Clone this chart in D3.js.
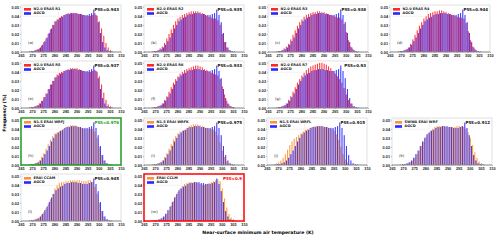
<!DOCTYPE html>
<html>
<head>
<meta charset="utf-8">
<script src="https://cdn.jsdelivr.net/npm/d3@7"></script>
<style>
  body { margin: 0; background: #fff; }
  svg { font-family: "DejaVu Sans", sans-serif; }
</style>
</head>
<body>
<svg id="fig"></svg>
<script>
// bin left edges (K), 1 K bins
const binStart = [266, 267, 268, 269, 270, 271, 272, 273, 274, 275,
                  276, 277, 278, 279, 280, 281, 282, 283, 284, 285,
                  286, 287, 288, 289, 290, 291, 292, 293, 294, 295,
                  296, 297, 298, 299, 300, 301, 302, 303, 304, 305,
                  306, 307];

const agcd = [0, 0, 0.0005, 0.001, 0.001, 0.002, 0.003, 0.005, 0.008, 0.012,
              0.016, 0.021, 0.026, 0.030, 0.034, 0.036, 0.038, 0.039, 0.041, 0.042,
              0.042, 0.043, 0.043, 0.043, 0.042, 0.042, 0.041, 0.041, 0.041, 0.042,
              0.043, 0.047, 0.041, 0.033, 0.021, 0.011, 0.005, 0.002, 0.001, 0.0005,
              0, 0];

const r1 = [0, 0, 0, 0.0005, 0.001, 0.002, 0.003, 0.004, 0.007, 0.011,
            0.015, 0.020, 0.025, 0.030, 0.034, 0.036, 0.038, 0.040, 0.041, 0.042,
            0.043, 0.043, 0.043, 0.043, 0.043, 0.042, 0.042, 0.041, 0.040, 0.040,
            0.040, 0.041, 0.043, 0.040, 0.034, 0.026, 0.018, 0.010, 0.005, 0.002,
            0.0005, 0];
const r2 = [0, 0, 0, 0.0005, 0.001, 0.002, 0.004, 0.006, 0.010, 0.015,
            0.020, 0.025, 0.030, 0.034, 0.037, 0.039, 0.041, 0.042, 0.043, 0.044,
            0.045, 0.045, 0.045, 0.045, 0.044, 0.043, 0.042, 0.040, 0.039, 0.038,
            0.037, 0.037, 0.035, 0.030, 0.020, 0.011, 0.005, 0.002, 0.001, 0,
            0, 0];
const r3 = [0, 0, 0, 0.0005, 0.001, 0.002, 0.004, 0.006, 0.009, 0.014,
            0.019, 0.024, 0.029, 0.033, 0.036, 0.039, 0.041, 0.042, 0.043, 0.044,
            0.044, 0.045, 0.045, 0.044, 0.044, 0.043, 0.042, 0.041, 0.040, 0.039,
            0.038, 0.038, 0.036, 0.031, 0.022, 0.013, 0.006, 0.003, 0.001, 0,
            0, 0];
const r4 = [0, 0, 0, 0.0005, 0.001, 0.002, 0.003, 0.005, 0.009, 0.014,
            0.019, 0.024, 0.029, 0.033, 0.037, 0.040, 0.042, 0.043, 0.044, 0.045,
            0.045, 0.046, 0.046, 0.045, 0.044, 0.043, 0.042, 0.041, 0.040, 0.039,
            0.038, 0.038, 0.037, 0.032, 0.023, 0.013, 0.006, 0.003, 0.001, 0,
            0, 0];
const r5 = [0, 0, 0, 0.0005, 0.001, 0.002, 0.003, 0.005, 0.008, 0.012,
            0.016, 0.021, 0.026, 0.030, 0.034, 0.037, 0.039, 0.040, 0.041, 0.042,
            0.043, 0.044, 0.044, 0.044, 0.044, 0.043, 0.042, 0.041, 0.040, 0.040,
            0.040, 0.041, 0.042, 0.040, 0.035, 0.026, 0.017, 0.009, 0.004, 0.002,
            0.0005, 0];
const r6 = [0, 0, 0, 0.0005, 0.001, 0.002, 0.003, 0.005, 0.009, 0.013,
            0.018, 0.023, 0.028, 0.032, 0.035, 0.038, 0.040, 0.042, 0.043, 0.044,
            0.045, 0.046, 0.047, 0.047, 0.046, 0.045, 0.043, 0.042, 0.040, 0.039,
            0.038, 0.037, 0.036, 0.032, 0.024, 0.015, 0.008, 0.004, 0.002, 0.001,
            0, 0];
const r7 = [0, 0, 0, 0.0005, 0.001, 0.002, 0.003, 0.005, 0.009, 0.013,
            0.018, 0.023, 0.028, 0.032, 0.036, 0.039, 0.042, 0.044, 0.046, 0.047,
            0.048, 0.049, 0.050, 0.050, 0.049, 0.048, 0.046, 0.044, 0.041, 0.038,
            0.035, 0.032, 0.028, 0.022, 0.015, 0.009, 0.005, 0.002, 0.001, 0,
            0, 0];
const wrfj = [0, 0, 0, 0.0005, 0.001, 0.002, 0.003, 0.005, 0.009, 0.013,
              0.018, 0.023, 0.028, 0.032, 0.035, 0.036, 0.037, 0.038, 0.040, 0.042,
              0.043, 0.044, 0.044, 0.044, 0.043, 0.042, 0.041, 0.040, 0.040, 0.040,
              0.040, 0.040, 0.037, 0.030, 0.020, 0.011, 0.005, 0.002, 0.001, 0,
              0, 0];
const wrfk = [0, 0, 0, 0.0005, 0.001, 0.002, 0.003, 0.005, 0.009, 0.013,
              0.018, 0.023, 0.028, 0.032, 0.035, 0.037, 0.038, 0.039, 0.041, 0.043,
              0.044, 0.045, 0.045, 0.045, 0.044, 0.043, 0.042, 0.041, 0.040, 0.040,
              0.039, 0.037, 0.033, 0.025, 0.016, 0.009, 0.004, 0.002, 0.001, 0,
              0, 0];
const wrfl = [0, 0.0005, 0.001, 0.002, 0.003, 0.005, 0.008, 0.012, 0.017, 0.022,
              0.026, 0.029, 0.031, 0.033, 0.035, 0.037, 0.039, 0.040, 0.041, 0.042,
              0.043, 0.043, 0.043, 0.043, 0.043, 0.042, 0.042, 0.041, 0.040, 0.038,
              0.034, 0.028, 0.020, 0.012, 0.006, 0.003, 0.001, 0.0005, 0, 0,
              0, 0];
const swwa = [0, 0, 0, 0, 0.0005, 0.001, 0.002, 0.003, 0.005, 0.008,
              0.012, 0.016, 0.021, 0.026, 0.031, 0.035, 0.038, 0.040, 0.042, 0.043,
              0.043, 0.043, 0.043, 0.042, 0.042, 0.042, 0.042, 0.042, 0.043, 0.043,
              0.043, 0.042, 0.040, 0.036, 0.030, 0.022, 0.014, 0.008, 0.004, 0.002,
              0.001, 0];
const ccam = [0, 0, 0, 0.0005, 0.001, 0.002, 0.003, 0.004, 0.007, 0.010,
              0.014, 0.019, 0.024, 0.030, 0.036, 0.040, 0.042, 0.043, 0.043, 0.044,
              0.044, 0.045, 0.045, 0.045, 0.045, 0.045, 0.044, 0.044, 0.044, 0.045,
              0.045, 0.043, 0.038, 0.030, 0.020, 0.011, 0.005, 0.002, 0.001, 0,
              0, 0];
const cclm = [0, 0, 0, 0, 0.0005, 0.001, 0.002, 0.003, 0.005, 0.008,
              0.012, 0.017, 0.022, 0.027, 0.032, 0.036, 0.039, 0.041, 0.042, 0.043,
              0.043, 0.043, 0.043, 0.042, 0.041, 0.040, 0.040, 0.041, 0.042, 0.043,
              0.044, 0.045, 0.046, 0.044, 0.036, 0.025, 0.015, 0.008, 0.004, 0.002,
              0.0005, 0];

const modelNames = ["N2.0 ERA5 R1", "N2.0 ERA5 R2", "N2.0 ERA5 R3", "N2.0 ERA5 R4",
                    "N2.0 ERA5 R5", "N2.0 ERA5 R6", "N2.0 ERA5 R7",
                    "N1.5 ERAI WRFJ", "N1.5 ERAI WRFK", "N1.5 ERAI WRFL", "SWWA ERAI WRF",
                    "ERAI CCAM", "ERAI CCLM"];
const modelSeries = [r1, r2, r3, r4, r5, r6, r7, wrfj, wrfk, wrfl, swwa, ccam, cclm];
const pssValues = ["0.943", "0.935", "0.938", "0.944", "0.937", "0.933", "0.93",
                   "0.976", "0.975", "0.915", "0.912", "0.945", "0.9"];
const panelLetters = ["(a)", "(b)", "(c)", "(d)", "(e)", "(f)", "(g)",
                      "(h)", "(i)", "(j)", "(k)", "(l)", "(m)"];
const xTicks = [265, 270, 275, 280, 285, 290, 295, 300, 305, 310];
const yTicks = [0, 0.01, 0.02, 0.03, 0.04, 0.05];

const width = 500;
const height = 241;
const pw = 100, ph = 47;

// panel origins (left, top) in grid order
const colX = [[21, 144, 268, 390], [21, 144, 268], [21, 144, 267, 392], [21, 144]];
const rowY = [5, 61, 118, 174];

const svg = d3.select("#fig").attr("width", width).attr("height", height);

const xScale = d3.scaleLinear().domain([265, 310]).range([0, pw]);
const yScale = d3.scaleLinear().domain([0, 0.052]).range([ph, 0]);

let idx = 0;
rowY.forEach((top, r) => {
    colX[r].forEach(left => {
        drawPanel(idx, left, top);
        idx++;
    });
});

function drawPanel(i, left, top)
{
    const g = svg.append("g").attr("transform", `translate(${left},${top})`);
    const modelColor = i < 7 ? "#ff0000" : "#ff7f0e";
    const obsColor = "#0000ff";
    const data = modelSeries[i];
    const bw = xScale(1) - xScale(0);

    // model bars (left half of bin), obs bars (right half)
    g.selectAll(".mbar").data(binStart)
        .enter().append("rect")
        .attr("x", (d) => xScale(d))
        .attr("y", (d, k) => yScale(data[k]))
        .attr("width", bw * 0.5)
        .attr("height", (d, k) => ph - yScale(data[k]))
        .attr("fill", modelColor)
        .attr("opacity", 0.75);

    g.selectAll(".obar").data(binStart)
        .enter().append("rect")
        .attr("x", (d) => xScale(d) + bw * 0.5)
        .attr("y", (d, k) => yScale(agcd[k]))
        .attr("width", bw * 0.5)
        .attr("height", (d, k) => ph - yScale(agcd[k]))
        .attr("fill", obsColor)
        .attr("opacity", 0.75);

    const xAxis = g.append("g")
        .attr("transform", `translate(0,${ph})`)
        .call(d3.axisBottom(xScale).tickValues(xTicks).tickSize(1).tickPadding(1));
    const yAxis = g.append("g")
        .call(d3.axisLeft(yScale).tickValues(yTicks).tickSize(1).tickPadding(1)
            .tickFormat(d3.format(".2f")));
    [xAxis, yAxis].forEach(a => {
        a.select(".domain").remove();
        a.selectAll("line").attr("stroke", "#444").attr("stroke-width", 0.4);
        a.selectAll("text")
            .style("font-size", "3.8px")
            .style("font-weight", "bold")
            .attr("fill", "#222");
    });

    // frame
    let frameColor = "#cccccc", frameW = 0.6;
    if (i === 7) { frameColor = "#1f9a1f"; frameW = 1.5; }
    if (i === 12) { frameColor = "#ff0000"; frameW = 1.5; }
    g.append("rect")
        .attr("width", pw).attr("height", ph)
        .attr("fill", "none")
        .attr("stroke", frameColor)
        .attr("stroke-width", frameW);
    if (frameColor === "#cccccc") {
        g.append("line").attr("x1", 0).attr("x2", pw).attr("y1", ph).attr("y2", ph)
            .attr("stroke", "#555").attr("stroke-width", 0.6);
    }

    // legend
    const lg = g.append("g").attr("transform", "translate(1.5,1.2)");
    lg.append("rect").attr("width", 36).attr("height", 10)
        .attr("rx", 1).attr("fill", "#fff").attr("fill-opacity", 0.8)
        .attr("stroke", "#ddd").attr("stroke-width", 0.4);
    [[modelNames[i], modelColor], ["AGCD", obsColor]].forEach((e, k) => {
        lg.append("rect")
            .attr("x", 1.5).attr("y", 1.8 + k * 4.2)
            .attr("width", 7).attr("height", 2.6)
            .attr("fill", e[1]).attr("opacity", 0.85);
        lg.append("text")
            .attr("x", 11).attr("y", 3.9 + k * 4.2)
            .style("font-size", "3.5px")
            .style("font-weight", "bold")
            .attr("fill", "#222")
            .text(e[0]);
    });

    let pssColor = "#111";
    if (i === 7) pssColor = "#1f9a1f";
    if (i === 12) pssColor = "#ff0000";
    g.append("text")
        .attr("x", pw - 2).attr("y", 6)
        .attr("text-anchor", "end")
        .style("font-size", "4px")
        .style("font-weight", "bold")
        .attr("fill", pssColor)
        .text("PSS=" + pssValues[i]);

    g.append("text")
        .attr("x", 7).attr("y", 38.5)
        .style("font-size", "3.8px")
        .attr("fill", "#222")
        .text(panelLetters[i]);
}

svg.append("text")
    .attr("transform", "translate(6,113) rotate(-90)")
    .attr("text-anchor", "middle")
    .style("font-size", "4.6px")
    .style("font-weight", "bold")
    .text("Frequency (%)");

svg.append("text")
    .attr("x", 258).attr("y", 234)
    .attr("text-anchor", "middle")
    .style("font-size", "4.6px")
    .style("font-weight", "bold")
    .text("Near-surface minimum air temperature (K)");
</script>
</body>
</html>
